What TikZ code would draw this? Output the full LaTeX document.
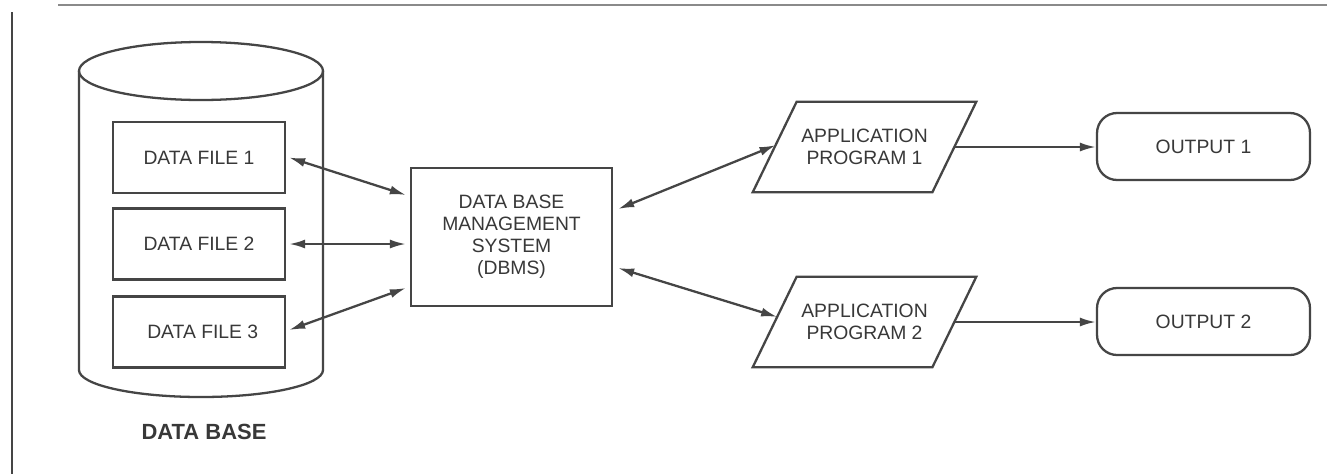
\documentclass[tikz,border=0pt]{standalone}
\usepackage{fontspec}
\setmainfont{Liberation Sans}
\usetikzlibrary{arrows.meta,calc}
\definecolor{ink}{HTML}{454545}
\definecolor{txt}{HTML}{383838}
\definecolor{rule}{HTML}{8A8A8A}
\tikzset{
  lbl/.style={font=\fontsize{11}{12.6}\selectfont, text=txt, align=center, inner sep=0pt},
  filebox/.style={lbl, draw=ink, line width=1.3pt, minimum width=3.44cm, minimum height=1.42cm},
  dbmsbox/.style={lbl, draw=ink, line width=1.3pt, minimum width=4.02cm, minimum height=2.76cm},
  progbox/.style={lbl, draw=none, minimum width=4.46cm, minimum height=1.8cm},
  outbox/.style={lbl, draw=ink, line width=1.3pt, rounded corners=0.4cm, minimum width=4.26cm, minimum height=1.34cm},
  shapeline/.style={draw=ink, line width=1.3pt},
  conn/.style={draw=ink, line width=1.3pt, {Latex[length=0.32cm,width=0.18cm]}-{Latex[length=0.32cm,width=0.18cm]}},
  conn1/.style={draw=ink, line width=1.3pt, -{Latex[length=0.32cm,width=0.18cm]}},
}
\begin{document}
\begin{tikzpicture}[x=0.02cm,y=-0.02cm]
\useasboundingbox (0,0) rectangle (1327,474);
\fill[white] (0,0) rectangle (1327,474);
% frame rules
\draw[rule, line width=1.6pt] (58,5) -- (1327,5);
\draw[ink, line width=1.2pt] (12,12) -- (12,474);
% cylinder
\draw[shapeline] (201,71) ellipse [x radius=122, y radius=29];
\draw[shapeline] (79,71) -- (79,370) arc [start angle=180, end angle=0, x radius=122, y radius=27] -- (323,71);
\node[lbl, font=\fontsize{12.5}{14}\selectfont\bfseries] (dbl) at (204,432) {DATA BASE};
% data files
\node[filebox] (df1) at (199,157.5) {DATA FILE 1};
\node[filebox] (df2) at (199,244) {DATA FILE 2};
\node[filebox] (df3) at (199,332) {\hspace{0.15cm}DATA FILE 3};
% DBMS
\node[dbmsbox] (dbms) at (511.5,237) {DATA BASE\\MANAGEMENT\\SYSTEM\\(DBMS)};
% application programs
\node[progbox] (a1) at (864.5,147) {APPLICATION\\PROGRAM 1};
\node[progbox] (a2) at (864.5,322) {APPLICATION\\PROGRAM 2};
\foreach \p in {a1,a2}{
  \coordinate (\p bl) at (\p.south west);
  \coordinate (\p tl) at ($(\p.north west)+(44,0)$);
  \coordinate (\p tr) at (\p.north east);
  \coordinate (\p br) at ($(\p.south east)+(-44,0)$);
  \draw[shapeline] (\p bl) -- (\p tl) -- (\p tr) -- (\p br) -- cycle;
  \coordinate (\p e) at ($(\p br)!0.5!(\p tr)$);
}
% outputs
\node[outbox] (o1) at (1203.5,146.5) {OUTPUT 1};
\node[outbox] (o2) at (1203.5,321.5) {OUTPUT 2};
% connectors
\draw[conn] ($(df1.east)+(3,0)$) -- ($(dbms.west)+(-4,-42)$);
\draw[conn] ($(df2.east)+(3,0)$) -- ($(dbms.west)+(-4,7)$);
\draw[conn] ($(df3.east)+(3,-2)$) -- ($(dbms.west)+(-4,51)$);
\draw[conn] ($(dbms.east)+(5,-28)$) -- ($(a1bl)!0.52!(a1tl)$);
\draw[conn] ($(dbms.east)+(5,31)$) -- ($(a2bl)!0.556!(a2tl)$);
\draw[conn1] (a1e) -- (a1e -| o1.west);
\draw[conn1] (a2e) -- (a2e -| o2.west);
\end{tikzpicture}
\end{document}
